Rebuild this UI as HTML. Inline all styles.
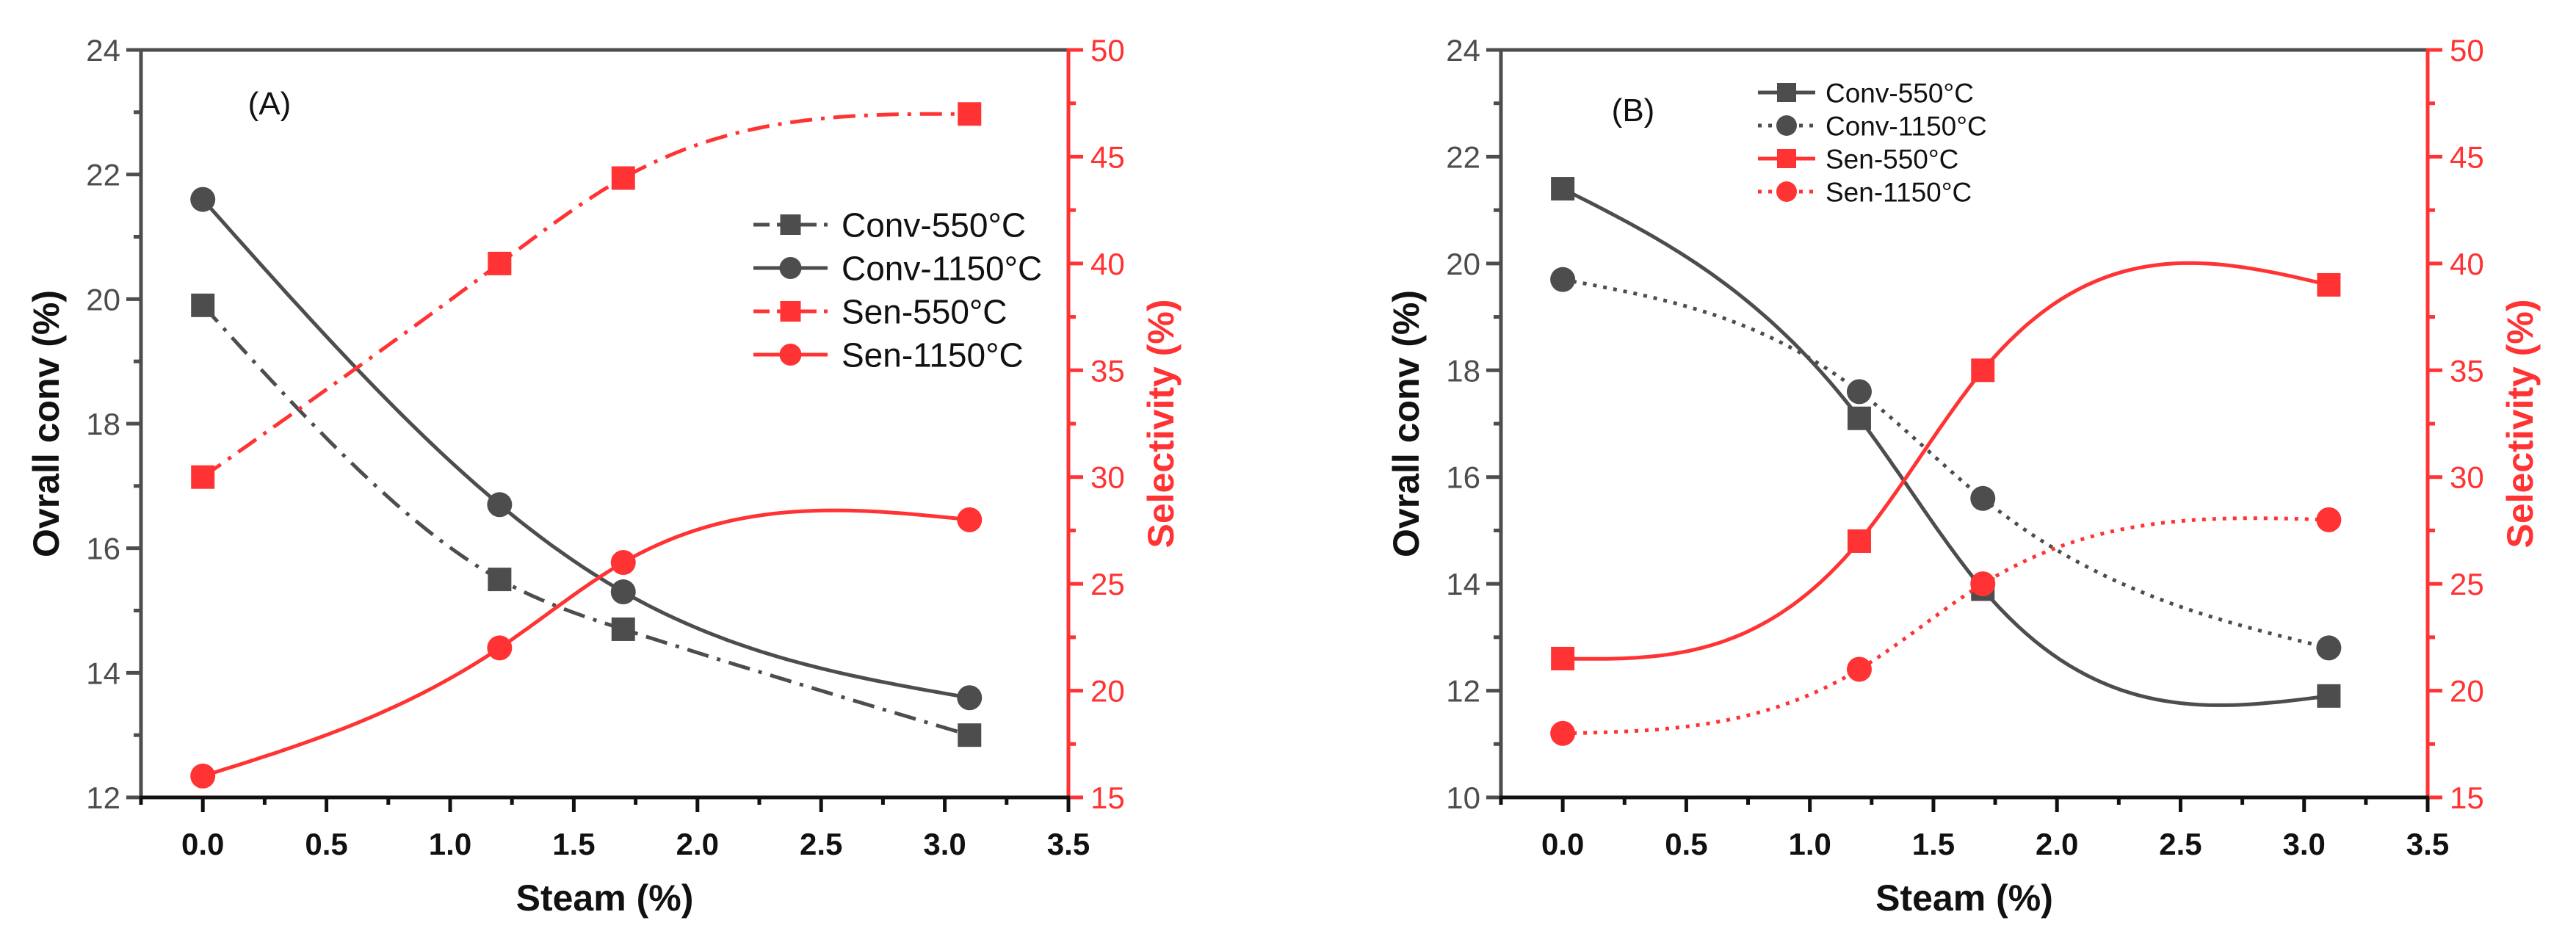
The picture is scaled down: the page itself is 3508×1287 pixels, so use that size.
<!DOCTYPE html>
<html><head><meta charset="utf-8"><style>
html,body{margin:0;padding:0;background:#fff;}
svg{display:block;font-family:"Liberation Sans",Arial,sans-serif;}
</style></head><body>
<svg id="chart" width="3508" height="1287" viewBox="0 0 3508 1287" xmlns="http://www.w3.org/2000/svg"></svg>
<script>
const steam = [0, 1.2, 1.7, 3.1];
const xTicks = [0.0, 0.5, 1.0, 1.5, 2.0, 2.5, 3.0, 3.5];
const aConv550 = [19.9, 15.5, 14.7, 13.0];
const aConv1150 = [21.6, 16.7, 15.3, 13.6];
const aSen550 = [30, 40, 44, 47];
const aSen1150 = [16, 22, 26, 28];
const bConv550 = [21.4, 17.1, 13.9, 11.9];
const bConv1150 = [19.7, 17.6, 15.6, 12.8];
const bSen550 = [21.5, 27, 35, 39];
const bSen1150 = [18, 21, 25, 28];
const aLeftTicks = [12, 14, 16, 18, 20, 22, 24];
const bLeftTicks = [10, 12, 14, 16, 18, 20, 22, 24];
const rightTicks = [15, 20, 25, 30, 35, 40, 45, 50];
const legendNames = ["Conv-550°C", "Conv-1150°C", "Sen-550°C", "Sen-1150°C"];

const NS = "http://www.w3.org/2000/svg";
const svg = document.getElementById("chart");
const GRAY = "#4d4d4d", RED = "#ff3333";
function mk(tag, attrs, parent, text) {
  const e = document.createElementNS(NS, tag);
  for (const k in attrs) e.setAttribute(k, attrs[k]);
  if (text !== undefined) e.textContent = text;
  (parent || svg).appendChild(e);
  return e;
}
function spline(xs, ys) {
  const n = xs.length, h = [], al = [], l = [1], mu = [0], z = [0], c = new Array(n).fill(0), b = [], d = [];
  for (let i = 0; i < n - 1; i++) h[i] = xs[i + 1] - xs[i];
  for (let i = 1; i < n - 1; i++) al[i] = 3 / h[i] * (ys[i + 1] - ys[i]) - 3 / h[i - 1] * (ys[i] - ys[i - 1]);
  for (let i = 1; i < n - 1; i++) { l[i] = 2 * (xs[i + 1] - xs[i - 1]) - h[i - 1] * mu[i - 1]; mu[i] = h[i] / l[i]; z[i] = (al[i] - h[i - 1] * z[i - 1]) / l[i]; }
  for (let j = n - 2; j >= 0; j--) { c[j] = (z[j] || 0) - (mu[j] || 0) * c[j + 1]; b[j] = (ys[j + 1] - ys[j]) / h[j] - h[j] * (c[j + 1] + 2 * c[j]) / 3; d[j] = (c[j + 1] - c[j]) / (3 * h[j]); }
  c[0] = 0;
  b[0] = (ys[1] - ys[0]) / h[0] - h[0] * (c[1] + 2 * c[0]) / 3; d[0] = (c[1] - c[0]) / (3 * h[0]);
  const pts = [];
  for (let j = 0; j < n - 1; j++) {
    for (let k = 0; k <= 40; k++) {
      const t = h[j] * k / 40;
      pts.push([xs[j] + t, ys[j] + b[j] * t + c[j] * t * t + d[j] * t * t * t]);
    }
  }
  return pts;
}
function panel(cfg) {
  const g = mk("g", {});
  
  
  const L = cfg.L, R = cfg.R, T = 68, B = 1086;
  const sx = v => L + (v + 0.25) / 3.75 * (R - L);
  const syL = v => B - (v - cfg.lmin) / (cfg.lmax - cfg.lmin) * (B - T);
  const syR = v => B - (v - 15) / 35 * (B - T);
  let e = mk("line", {x1: L, y1: T, x2: R, y2: T, stroke: GRAY, "stroke-width": 5}, g);
   
  e = mk("line", {x1: L, y1: T - 2, x2: L, y2: B + 2, stroke: GRAY, "stroke-width": 5}, g);
   
  for (let v = cfg.lmin; v <= cfg.lmax; v += 1) {
    const major = (v % 2 === 0);
    mk("line", {x1: L, y1: syL(v), x2: L - (major ? 20 : 10), y2: syL(v), stroke: GRAY, "stroke-width": 5}, g);
  }
  cfg.lticks.forEach(v => {
    e = mk("text", {x: L - 28, y: syL(v) + 15, "text-anchor": "end", "font-size": 42, fill: GRAY}, g, String(v));
     
  });
  e = mk("line", {x1: R, y1: T - 2, x2: R, y2: B + 2, stroke: RED, "stroke-width": 5}, g);
   
  for (let v = 15; v <= 50; v += 2.5) {
    const major = (v % 5 === 0);
    mk("line", {x1: R, y1: syR(v), x2: R + (major ? 20 : 10), y2: syR(v), stroke: RED, "stroke-width": 5}, g);
  }
  rightTicks.forEach(v => {
    e = mk("text", {x: R + 30, y: syR(v) + 15, "font-size": 42, fill: RED}, g, String(v));
     
  });
  e = mk("line", {x1: L - 2, y1: B, x2: R + 2, y2: B, stroke: "#111", "stroke-width": 5}, g);
   
  for (let v = -0.25; v <= 3.5001; v += 0.25) {
    const major = Math.abs(v * 2 - Math.round(v * 2)) < 1e-6;
    mk("line", {x1: sx(v), y1: B, x2: sx(v), y2: B + (major ? 20 : 10), stroke: "#111", "stroke-width": 5}, g);
  }
  xTicks.forEach(v => {
    e = mk("text", {x: sx(v), y: B + 78, "text-anchor": "middle", "font-size": 42, "font-weight": "bold", fill: "#111"}, g, v.toFixed(1));
     
  });
  e = mk("text", {x: (L + R) / 2, y: 1240, "text-anchor": "middle", "font-size": 50, "font-weight": "bold", fill: "#111"}, g, "Steam (%)");
   
  e = mk("text", {x: 0, y: 0, "text-anchor": "middle", "font-size": 50, "font-weight": "bold", fill: "#111", transform: `translate(${L - 112},${(T + B) / 2}) rotate(-90)`}, g, "Ovrall conv (%)");
   
  e = mk("text", {x: 0, y: 0, "text-anchor": "middle", "font-size": 50, "font-weight": "bold", fill: RED, transform: `translate(${R + 143},${(T + B) / 2}) rotate(-90)`}, g, "Selectivity (%)");
   
  e = mk("text", {x: cfg.labX, y: cfg.labY, "text-anchor": "middle", "font-size": 44, fill: "#111"}, g, cfg.label);
   
  cfg.series.forEach((s, i) => {
    const sy = s.right ? syR : syL;
    const pts = spline(steam, s.data);
    const sg = mk("g", {}, g);
    
    
    const dp = pts.map((p, k) => (k ? "L" : "M") + sx(p[0]).toFixed(1) + " " + sy(p[1]).toFixed(1)).join(" ");
    const attrs = {d: dp, fill: "none", stroke: s.color, "stroke-width": 5};
    if (s.dash) attrs["stroke-dasharray"] = s.dash;
    e = mk("path", attrs, sg);
     
    s.data.forEach((v, k) => {
      const cx = sx(steam[k]), cy = sy(v);
      if (s.shape === "sq") e = mk("rect", {x: cx - 16, y: cy - 16, width: 32, height: 32, fill: s.color}, sg);
      else e = mk("circle", {cx: cx, cy: cy, r: 17, fill: s.color}, sg);
       
    });
    const lg = cfg.leg;
    const ly = lg.y0 + i * lg.dy;
    const le = mk("g", {}, g);
    
    
    const la = {x1: lg.x1, y1: ly, x2: lg.x2, y2: ly, stroke: s.color, "stroke-width": 5};
    if (s.ldash) la["stroke-dasharray"] = s.ldash;
    mk("line", la, le);
    const mx = (lg.x1 + lg.x2) / 2, ms = lg.ms;
    if (s.shape === "sq") mk("rect", {x: mx - ms, y: ly - ms, width: 2 * ms, height: 2 * ms, fill: s.color}, le);
    else mk("circle", {cx: mx, cy: ly, r: ms + 1, fill: s.color}, le);
    mk("text", {x: lg.tx, y: ly + lg.fs * 0.36, "font-size": lg.fs, fill: "#111"}, le, legendNames[i]);
  });
}
panel({name: "panel-a", L: 192, R: 1455, lmin: 12, lmax: 24, lticks: aLeftTicks, label: "(A)", labX: 367, labY: 156,
  leg: {x1: 1026, x2: 1127, tx: 1146, y0: 306, dy: 59, fs: 46, ms: 14},
  series: [
    {key: "a-conv-550", data: aConv550, color: GRAY, shape: "sq", dash: "30 12 5 12", ldash: "22 10"},
    {key: "a-conv-1150", data: aConv1150, color: GRAY, shape: "ci"},
    {key: "a-sen-550", data: aSen550, color: RED, shape: "sq", right: true, dash: "30 12 5 12", ldash: "22 10"},
    {key: "a-sen-1150", data: aSen1150, color: RED, shape: "ci", right: true}
  ]});
panel({name: "panel-b", L: 2044, R: 3306, lmin: 10, lmax: 24, lticks: bLeftTicks, label: "(B)", labX: 2224, labY: 165,
  leg: {x1: 2394, x2: 2472, tx: 2486, y0: 126, dy: 45, fs: 37, ms: 13},
  series: [
    {key: "b-conv-550", data: bConv550, color: GRAY, shape: "sq"},
    {key: "b-conv-1150", data: bConv1150, color: GRAY, shape: "ci", dash: "5 9", ldash: "5 9"},
    {key: "b-sen-550", data: bSen550, color: RED, shape: "sq", right: true},
    {key: "b-sen-1150", data: bSen1150, color: RED, shape: "ci", right: true, dash: "5 9", ldash: "5 9"}
  ]});
</script>
</body></html>
